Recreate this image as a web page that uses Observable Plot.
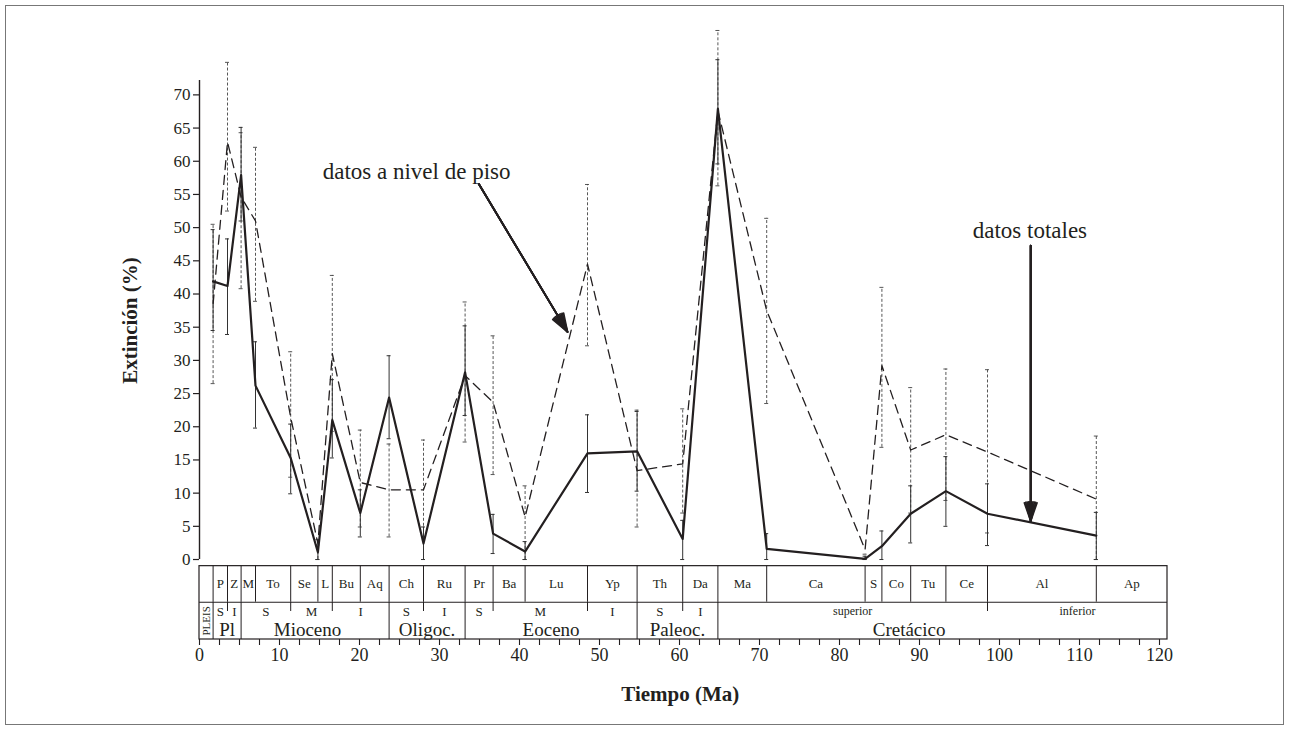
<!DOCTYPE html>
<html><head><meta charset="utf-8">
<script src="https://cdn.jsdelivr.net/npm/d3@7"></script>
<script src="https://cdn.jsdelivr.net/npm/@observablehq/plot@0.6"></script>
<style>
body{margin:0;background:#fff;}
#wrap{position:relative;width:1289px;height:729px;}
#border{position:absolute;left:5px;top:5px;width:1277px;height:718px;border:1px solid #777;pointer-events:none;}
</style></head><body><div id="wrap"><div id="chart"></div><div id="border"></div></div>
<script>
// ---- data (Ma positions of the points = stage boundaries as drawn) ----
const ages     = [1.7, 3.5, 5.2, 7.0, 11.4, 14.8, 16.6, 20.1, 23.7, 28.0, 33.2, 36.7, 40.7, 48.5, 54.7, 60.4, 64.8, 70.9, 83.2, 85.3, 88.9, 93.3, 98.5, 112.1];
// datos totales (solid)
const totales   = [41.9, 41.2, 57.9, 26.2, 15.3, 1.1, 21.0, 7.0, 24.4, 2.4, 28.2, 3.9, 1.2, 16.0, 16.3, 3.1, 67.9, 1.6, 0.1, 2.0, 6.9, 10.3, 6.9, 3.6];
const totalesLo = [34.5, 33.9, 51.0, 19.8, 9.9, 0, 15.3, 3.4, 18.2, 0, 21.7, 0.9, 0, 10.1, 10.3, 0, 59.6, 0, 0, 0, 2.5, 5.0, 2.1, 0];
const totalesHi = [49.7, 48.3, 65.1, 32.8, 20.4, 2.2, 27.1, 10.5, 30.7, 4.9, 35.2, 6.8, 2.7, 21.8, 22.3, 5.9, 75.3, 3.9, 0.5, 4.3, 11.1, 15.5, 11.4, 7.1];
// datos a nivel de piso (dashed)
const piso   = [38.5, 62.9, 54.6, 51.0, 21.4, 2.4, 31.0, 11.6, 10.5, 10.5, 27.7, 23.7, 6.4, 44.5, 13.4, 14.4, 67.6, 37.5, 1.5, 29.2, 16.5, 18.8, 16.2, 9.1];
const pisoLo = [26.5, 52.5, 40.8, 38.9, 12.4, 0, 19.3, 4.9, 3.4, 3.5, 17.7, 12.8, 0, 32.2, 4.9, 7.0, 56.3, 23.5, 0, 16.9, 7.0, 8.9, 4.0, 0];
const pisoHi = [50.5, 74.9, 64.3, 62.1, 31.3, 3.0, 42.8, 19.5, 17.4, 18.0, 38.8, 33.7, 11.1, 56.5, 22.5, 22.7, 79.7, 51.4, 0.8, 41.0, 25.9, 28.7, 28.6, 18.6];

// ---- time scale table ----
const stageNames = ["", "P", "Z", "M", "To", "Se", "L", "Bu", "Aq", "Ch", "Ru", "Pr", "Ba", "Lu", "Yp", "Th", "Da", "Ma", "Ca", "S", "Co", "Tu", "Ce", "Al", "Ap"];
const stageEdges = [0, 1.7, 3.5, 5.2, 7.0, 11.4, 14.8, 16.6, 20.1, 23.7, 28.0, 33.2, 36.7, 40.7, 48.5, 54.7, 60.4, 64.8, 70.9, 83.2, 85.3, 88.9, 93.3, 98.5, 112.1, 121];
const subNames = ["S", "I", "S", "M", "I", "S", "I", "S", "M", "I", "S", "I", "superior", "inferior"];
const subEdges = [[1.7, 3.5], [3.5, 5.2], [5.2, 11.4], [11.4, 16.6], [16.6, 23.7], [23.7, 28.0], [28.0, 33.2], [33.2, 36.7], [36.7, 48.5], [48.5, 54.7], [54.7, 60.4], [60.4, 64.8], [64.8, 98.5], [98.5, 121]];
const epochNames = ["PLEIS", "Pl", "Mioceno", "Oligoc.", "Eoceno", "Paleoc.", "Cretácico"];
const epochEdges = [0, 1.7, 5.2, 23.7, 33.2, 54.7, 64.8, 121];

const yTicks = d3.range(0, 71, 5);
const xTicks = d3.range(0, 121, 2.5);
const xLabelEvery = 10;

const labelPiso = [{text: "datos a nivel de piso", x: 15.4, y: 58.5}];
const labelTotales = [{text: "datos totales", x: 103.8, y: 49.6}];
const arrows = [
  {x1: 34.9, y1: 56.6, x2: 46.0, y2: 34.3},
  {x1: 103.9, y1: 47.3, x2: 103.9, y2: 5.8}
];

// ---- build tables ----
const pts = ages.map((a, i) => ({x: a, t: totales[i], tLo: totalesLo[i], tHi: totalesHi[i], p: piso[i], pLo: pisoLo[i], pHi: pisoHi[i]}));
const tCaps = pts.flatMap(d => [{x: d.x, v: d.tLo}, {x: d.x, v: d.tHi}]);
const pCaps = pts.flatMap(d => [{x: d.x, v: d.pLo}, {x: d.x, v: d.pHi}]);
const stages = stageNames.map((n, i) => ({name: n, from: stageEdges[i], to: stageEdges[i + 1]}));
const subs = subNames.map((n, i) => ({name: n, from: subEdges[i][0], to: subEdges[i][1]}));
const epochs = epochNames.map((n, i) => ({name: n, from: epochEdges[i], to: epochEdges[i + 1]}));
const epochLabelAt = {"Mioceno": 13.5, "Cretácico": 88.7};
const subTicks = subEdges.map(e => e[0]).filter(v => !epochEdges.includes(v));

const INK = "#231f20";
const X0 = 0, X1 = 121;
const TOP = -1, MID = -6.43, BOT = -12.05;

// stacked arrow heads give a filled look
const headMarks = [6, 14, 22, 30, 38].map(a =>
  Plot.arrow(arrows, {x1: "x1", y1: "y1", x2: "x2", y2: "y2", stroke: INK, strokeWidth: 1.8, headLength: 16, headAngle: a}));

const chart = Plot.plot({
  width: 1289, height: 729,
  marginLeft: 199, marginRight: 122, marginTop: 28, marginBottom: 90,
  x: {domain: [X0, X1]},
  y: {domain: [BOT, 80]},
  style: {fontFamily: "'Liberation Serif', 'Times New Roman', serif", fontSize: "17px", color: INK, background: "white", overflow: "visible"},
  marks: [
    // axes
    Plot.ruleX([0], {y1: 0, y2: 72.15, stroke: INK, strokeWidth: 1.4}),
    Plot.axisY({ticks: yTicks, tickSize: 6, tickPadding: 3, fontSize: 17, label: null, strokeWidth: 1.2}),
    Plot.axisX({ticks: xTicks, tickFormat: d => d % xLabelEvery === 0 ? String(d) : "", tickSize: 6, tickPadding: 3, fontSize: 18, label: null, strokeWidth: 1.1}),
    // table
    Plot.rect([0], {x1: X0, x2: X1, y1: BOT, y2: TOP, fill: "none", stroke: INK, strokeWidth: 1.2}),
    Plot.ruleY([MID], {x1: X0, x2: X1, stroke: INK, strokeWidth: 1.1}),
    Plot.ruleX(stageEdges.slice(1, -1), {y1: MID, y2: TOP, stroke: INK, strokeWidth: 1}),
    Plot.ruleX(epochEdges.slice(1, -1), {y1: BOT, y2: MID, stroke: INK, strokeWidth: 1}),
    Plot.ruleX(subTicks, {y1: MID - 1.4, y2: MID, stroke: INK, strokeWidth: 1}),
    Plot.text(stages, {x: d => (d.from + d.to) / 2, y: (TOP + MID) / 2, text: "name", fontSize: 13, fill: INK}),
    Plot.text(subs, {x: d => (d.from + d.to) / 2, y: -7.85, text: "name", fontSize: d => d.name.length > 1 ? 12 : 13, fill: INK}),
    Plot.text(epochs.filter(d => d.name !== "PLEIS"), {x: d => epochLabelAt[d.name] ?? (d.from + d.to) / 2, y: -10.6, text: "name", fontSize: 19, fill: INK}),
    Plot.text(epochs.filter(d => d.name === "PLEIS"), {x: d => (d.from + d.to) / 2, y: -9.25, text: "name", fontSize: 11, rotate: -90, fill: INK}),
    // error bars: piso (dashed)
    Plot.ruleX(pts, {x: "x", y1: "pLo", y2: "pHi", stroke: "#444", strokeWidth: 0.9, strokeDasharray: "3,2"}),
    Plot.ruleY(pCaps, {x1: "x", x2: "x", y: "v", insetLeft: -2, insetRight: -2, stroke: "#444", strokeWidth: 0.9}),
    // error bars: totales (solid)
    Plot.ruleX(pts, {x: "x", y1: "tLo", y2: "tHi", stroke: "#333", strokeWidth: 1}),
    Plot.ruleY(tCaps, {x1: "x", x2: "x", y: "v", insetLeft: -2, insetRight: -2, stroke: "#333", strokeWidth: 1}),
    // lines
    Plot.line(pts, {x: "x", y: "p", stroke: INK, strokeWidth: 1.3, strokeDasharray: "9,6"}),
    Plot.line(pts, {x: "x", y: "t", stroke: INK, strokeWidth: 2.2}),
    // annotations
    ...headMarks,
    Plot.text(labelPiso, {x: "x", y: "y", text: "text", textAnchor: "start", fontSize: 23, fill: INK}),
    Plot.text(labelTotales, {x: "x", y: "y", text: "text", textAnchor: "middle", fontSize: 23, fill: INK}),
    // axis titles
    Plot.text(["Extinción (%)"], {x: -8.6, y: 36, text: d => d, rotate: -90, fontSize: 21, fontWeight: "bold", fill: INK}),
    Plot.text(["Tiempo (Ma)"], {x: 60.1, y: -20.3, text: d => d, fontSize: 21, fontWeight: "bold", fill: INK})
  ]
});
document.getElementById("chart").appendChild(chart);
</script></body></html>
